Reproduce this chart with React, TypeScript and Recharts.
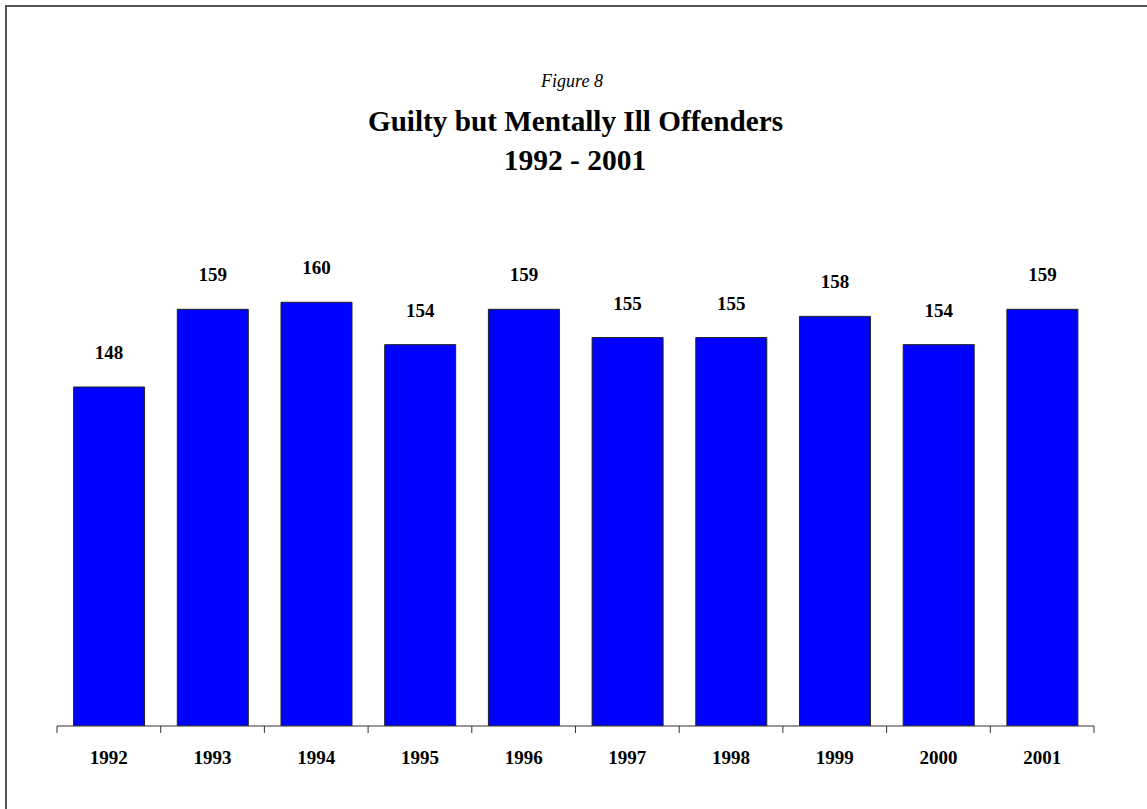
import { BarChart, Bar, XAxis, YAxis, LabelList } from 'recharts';

const years = ['1992', '1993', '1994', '1995', '1996', '1997', '1998', '1999', '2000', '2001'];
const offenders = [148, 159, 160, 154, 159, 155, 155, 158, 154, 159];

const chartData = years.map((year, i) => ({ year, value: offenders[i] }));

const font = '"Liberation Serif", "Times New Roman", serif';
const LABEL_GAP = 24;
const TICK_LEN = 7;

// year label plus tick marks on the category boundaries (Excel style)
const YearTick = (props: any) => {
  const { x, y, payload, index, visibleTicksCount } = props;
  const half = payload?.offset ?? 0;
  const axisY = y - LABEL_GAP;
  const last = index === (visibleTicksCount ?? years.length) - 1;
  return (
    <g>
      <line x1={x - half} x2={x - half} y1={axisY} y2={axisY + TICK_LEN} stroke="#333" />
      {last && <line x1={x + half} x2={x + half} y1={axisY} y2={axisY + TICK_LEN} stroke="#333" />}
      <text
        x={x}
        y={y}
        dy={13.5}
        textAnchor="middle"
        fill="#000"
        fontFamily={font}
        fontWeight="bold"
        fontSize={19}
      >
        {payload.value}
      </text>
    </g>
  );
};

const App = () => {
  return (
    <div
      style={{
        position: 'absolute',
        left: 0,
        top: 0,
        width: 1147,
        height: 809,
        overflow: 'hidden',
        background: '#fff',
        fontFamily: font,
      }}
    >
      {/* chart frame, only the top and left edges fall inside the picture */}
      <div
        style={{
          position: 'absolute',
          left: 5,
          top: 5,
          width: 1200,
          height: 900,
          borderLeft: '2px solid #555',
          borderTop: '2px solid #555',
        }}
      />
      <svg width={1147} height={200} style={{ position: 'absolute', left: 0, top: 0 }}>
        <text x={572} y={87} textAnchor="middle" fontFamily={font} fontStyle="italic" fontSize={18}>
          Figure 8
        </text>
        <text x={575.5} y={131} textAnchor="middle" fontFamily={font} fontWeight="bold" fontSize={29.2}>
          Guilty but Mentally Ill Offenders
        </text>
        <text x={575} y={170} textAnchor="middle" fontFamily={font} fontWeight="bold" fontSize={29.5}>
          1992 - 2001
        </text>
      </svg>
      <div style={{ position: 'absolute', left: 0, top: 0 }}>
        <BarChart
          width={1147}
          height={809}
          data={chartData}
          margin={{ top: 161, right: 53, bottom: 33, left: 57 }}
          barCategoryGap="16%"
        >
          <XAxis
            dataKey="year"
            axisLine={{ stroke: '#333', strokeWidth: 1 }}
            tickLine={false}
            tickSize={0}
            tickMargin={LABEL_GAP}
            interval={0}
            height={50}
            tick={<YearTick />}
          />
          <YAxis hide domain={[100, 180]} allowDataOverflow />
          <Bar dataKey="value" fill="#0000FF" stroke="#222" strokeWidth={1} isAnimationActive={false}>
            <LabelList
              dataKey="value"
              position="top"
              offset={28}
              fill="#000"
              style={{ fontFamily: font, fontWeight: 'bold', fontSize: 19 }}
            />
          </Bar>
        </BarChart>
      </div>
    </div>
  );
};

export default App;
